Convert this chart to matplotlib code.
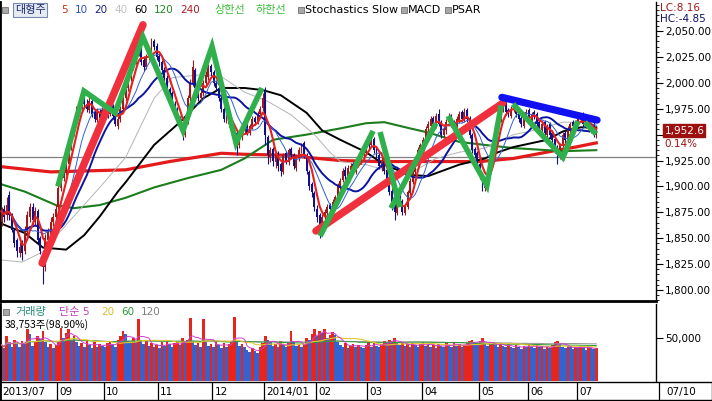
import numpy as np
import pandas as pd
import matplotlib
matplotlib.use('Agg')
import matplotlib.pyplot as plt
from matplotlib.ticker import MultipleLocator, FuncFormatter
from matplotlib.patches import Rectangle

plt.rcParams['font.family'] = ['DejaVu Sans']
KR = ['Noto Sans CJK KR', 'DejaVu Sans']

# ---------------- data ----------------
month_labels = ['2013/07', '09', '10', '11', '12', '2014/01', '02', '03', '04', '05', '06', '07']
month_start = [0, 22, 40, 61, 82, 102, 122, 142, 163, 185, 204, 223]
last_date_label = '07/10'

opens = [
    1866, 1878, 1872, 1892, 1870, 1858, 1848, 1836, 1845, 1838,
    1856, 1870, 1880, 1866, 1876, 1850, 1832, 1822, 1848, 1852,
    1866, 1870, 1880, 1898, 1908, 1914, 1922, 1938, 1952, 1962,
    1972, 1978, 1986, 1980, 1974, 1982, 1972, 1964, 1972, 1966,
    1972, 1976, 1970, 1978, 1968, 1958, 1965, 1975, 1985, 1995,
    2005, 2015, 2020, 2030, 2034, 2022, 2015, 2025, 2030, 2040,
    2036, 2026, 2020, 2012, 2005, 1994, 1990, 1980, 1975, 1966,
    1960, 1950, 1962, 1985, 2000, 2012, 1996, 1985, 1990, 2000,
    2006, 2016, 2010, 2000, 1995, 1985, 1975, 1964, 1968, 1960,
    1956, 1952, 1940, 1948, 1955, 1962, 1952, 1958, 1966, 1962,
    1970, 1976, 1992, 1948, 1928, 1936, 1924, 1932, 1922, 1914,
    1932, 1924, 1936, 1930, 1918, 1928, 1934, 1942, 1930, 1914,
    1902, 1894, 1878, 1872, 1860, 1872, 1874, 1882, 1876, 1884,
    1890, 1898, 1906, 1916, 1910, 1916, 1922, 1914, 1922, 1924,
    1930, 1934, 1944, 1940, 1946, 1936, 1930, 1918, 1926, 1916,
    1906, 1896, 1882, 1874, 1892, 1886, 1874, 1880, 1894, 1904,
    1914, 1924, 1936, 1940, 1944, 1956, 1958, 1966, 1958, 1970,
    1962, 1950, 1954, 1962, 1968, 1962, 1954, 1964, 1972, 1964,
    1974, 1966, 1950, 1936, 1932, 1922, 1912, 1898, 1904, 1914,
    1928, 1944, 1954, 1964, 1974, 1980, 1974, 1968, 1974, 1980,
    1972, 1966, 1958, 1966, 1974, 1962, 1972, 1970, 1962, 1954,
    1962, 1950, 1960, 1952, 1946, 1938, 1928, 1940, 1952, 1944,
    1954, 1962, 1956, 1960, 1964, 1970, 1958, 1964, 1954, 1960,
    1950]
highs = [
    1880, 1882, 1890, 1896, 1874, 1860, 1850, 1846, 1848, 1862,
    1876, 1884, 1884, 1880, 1878, 1852, 1835, 1854, 1860, 1870,
    1874, 1882, 1902, 1914, 1920, 1926, 1942, 1956, 1966, 1978,
    1982, 1988, 1990, 1984, 1986, 1985, 1975, 1976, 1975, 1977,
    1979, 1980, 1981, 1980, 1970, 1968, 1978, 1988, 1998, 2008,
    2018, 2024, 2033, 2038, 2037, 2026, 2028, 2034, 2043, 2042,
    2038, 2028, 2022, 2015, 2008, 1996, 1992, 1982, 1977, 1968,
    1962, 1963, 1988, 2004, 2022, 2014, 1998, 1993, 2003, 2011,
    2018, 2018, 2012, 2003, 1997, 1987, 1977, 1970, 1970, 1962,
    1958, 1954, 1950, 1957, 1963, 1964, 1960, 1968, 1968, 1973,
    1978, 1990, 1996, 1950, 1938, 1938, 1932, 1934, 1924, 1932,
    1934, 1937, 1938, 1932, 1930, 1938, 1942, 1944, 1932, 1916,
    1904, 1896, 1882, 1874, 1873, 1878, 1883, 1884, 1888, 1892,
    1903, 1908, 1918, 1920, 1921, 1923, 1924, 1925, 1928, 1933,
    1938, 1943, 1948, 1948, 1948, 1938, 1932, 1928, 1928, 1918,
    1908, 1898, 1884, 1892, 1894, 1888, 1883, 1897, 1908, 1918,
    1928, 1938, 1942, 1948, 1958, 1963, 1968, 1968, 1971, 1975,
    1964, 1958, 1965, 1971, 1970, 1964, 1968, 1973, 1974, 1976,
    1976, 1968, 1952, 1938, 1934, 1924, 1914, 1908, 1918, 1933,
    1948, 1958, 1968, 1978, 1981, 1982, 1976, 1978, 1981, 1982,
    1974, 1968, 1970, 1975, 1976, 1972, 1974, 1972, 1964, 1962,
    1964, 1960, 1962, 1954, 1948, 1940, 1942, 1953, 1954, 1958,
    1962, 1964, 1964, 1968, 1971, 1972, 1964, 1966, 1960, 1962,
    1956]
lows = [
    1862, 1866, 1868, 1868, 1856, 1842, 1832, 1832, 1829, 1835,
    1852, 1866, 1864, 1862, 1845, 1835, 1806, 1818, 1844, 1848,
    1862, 1866, 1878, 1896, 1905, 1911, 1920, 1935, 1949, 1960,
    1968, 1975, 1977, 1972, 1971, 1967, 1962, 1962, 1963, 1964,
    1970, 1966, 1968, 1965, 1958, 1955, 1962, 1972, 1982, 1992,
    2002, 2012, 2018, 2026, 2017, 2011, 2013, 2022, 2027, 2032,
    2022, 2016, 2009, 2002, 1992, 1986, 1977, 1972, 1962, 1957,
    1945, 1948, 1960, 1982, 1997, 1992, 1982, 1982, 1987, 1997,
    2003, 2007, 1997, 1992, 1982, 1972, 1962, 1961, 1957, 1952,
    1947, 1930, 1937, 1945, 1952, 1950, 1950, 1955, 1959, 1960,
    1968, 1973, 1940, 1922, 1924, 1920, 1918, 1915, 1910, 1912,
    1922, 1921, 1926, 1917, 1915, 1925, 1932, 1927, 1912, 1897,
    1890, 1876, 1866, 1850, 1858, 1868, 1872, 1874, 1874, 1881,
    1888, 1896, 1904, 1906, 1907, 1913, 1912, 1912, 1919, 1922,
    1927, 1932, 1936, 1938, 1932, 1926, 1917, 1915, 1912, 1902,
    1892, 1877, 1868, 1872, 1882, 1872, 1872, 1878, 1892, 1902,
    1912, 1922, 1932, 1937, 1941, 1953, 1955, 1957, 1956, 1958,
    1947, 1947, 1951, 1959, 1957, 1952, 1952, 1961, 1962, 1962,
    1962, 1947, 1932, 1927, 1917, 1907, 1896, 1896, 1902, 1912,
    1926, 1942, 1952, 1962, 1972, 1969, 1967, 1966, 1972, 1967,
    1962, 1957, 1956, 1964, 1962, 1960, 1965, 1958, 1952, 1952,
    1950, 1948, 1947, 1942, 1932, 1922, 1926, 1938, 1942, 1942,
    1952, 1955, 1954, 1958, 1962, 1957, 1956, 1953, 1952, 1948,
    1947]
closes = [
    1876, 1870, 1882, 1872, 1858, 1845, 1838, 1842, 1836, 1858,
    1872, 1880, 1868, 1876, 1848, 1838, 1822, 1850, 1856, 1866,
    1870, 1878, 1898, 1910, 1916, 1922, 1938, 1952, 1962, 1974,
    1978, 1985, 1980, 1975, 1982, 1970, 1965, 1972, 1966, 1974,
    1975, 1970, 1978, 1968, 1960, 1965, 1975, 1985, 1995, 2005,
    2015, 2020, 2030, 2035, 2020, 2015, 2025, 2030, 2038, 2035,
    2025, 2020, 2012, 2005, 1995, 1990, 1980, 1975, 1965, 1960,
    1950, 1960, 1985, 2000, 2015, 1995, 1985, 1990, 2000, 2008,
    2015, 2010, 2000, 1995, 1985, 1975, 1965, 1968, 1960, 1955,
    1950, 1940, 1948, 1955, 1960, 1952, 1958, 1965, 1962, 1970,
    1975, 1985, 1950, 1930, 1935, 1925, 1930, 1920, 1915, 1930,
    1925, 1935, 1930, 1920, 1928, 1935, 1940, 1930, 1915, 1900,
    1895, 1880, 1870, 1860, 1870, 1875, 1880, 1878, 1885, 1890,
    1900, 1905, 1915, 1910, 1918, 1920, 1915, 1922, 1925, 1930,
    1935, 1940, 1940, 1945, 1935, 1930, 1920, 1925, 1915, 1905,
    1895, 1880, 1875, 1890, 1885, 1875, 1880, 1895, 1905, 1915,
    1925, 1935, 1940, 1945, 1955, 1960, 1965, 1960, 1968, 1960,
    1950, 1955, 1962, 1968, 1960, 1955, 1965, 1970, 1965, 1972,
    1965, 1950, 1935, 1930, 1920, 1910, 1900, 1905, 1915, 1930,
    1945, 1955, 1965, 1975, 1978, 1972, 1970, 1975, 1978, 1970,
    1965, 1960, 1968, 1972, 1965, 1970, 1968, 1960, 1955, 1960,
    1952, 1958, 1950, 1945, 1935, 1930, 1940, 1950, 1945, 1955,
    1960, 1958, 1962, 1965, 1968, 1960, 1962, 1955, 1958, 1950,
    1952.6]
volumes = [
    42000, 38000, 52000, 45000, 40000, 48000, 44000, 39000, 46000, 43000,
    60000, 55000, 41000, 47000, 52000, 49000, 58000, 45000, 40000, 43000,
    38000, 42000, 46000, 62000, 50000, 56000, 60000, 48000, 52000, 45000,
    41000, 44000, 39000, 47000, 42000, 38000, 45000, 40000, 43000, 41000,
    39000, 44000, 46000, 42000, 40000, 48000, 52000, 58000, 55000, 47000,
    44000, 50000, 45000, 72000, 48000, 43000, 46000, 41000, 44000, 40000,
    42000, 38000, 45000, 41000, 47000, 43000, 39000, 44000, 46000, 42000,
    50000, 45000, 48000, 73000, 46000, 42000, 44000, 40000, 72000, 45000,
    41000, 43000, 39000, 46000, 42000, 38000, 44000, 40000, 43000, 47000,
    74000, 45000, 41000, 43000, 39000, 36000, 34000, 38000, 35000, 33000,
    40000, 44000, 52000, 48000, 45000, 41000, 43000, 39000, 46000, 42000,
    40000, 44000, 58000, 45000, 41000, 43000, 39000, 42000, 50000, 48000,
    55000, 60000, 52000, 58000, 56000, 61000, 50000, 54000, 57000, 53000,
    45000, 42000, 40000, 44000, 38000, 41000, 43000, 39000, 42000, 40000,
    38000, 42000, 45000, 40000, 44000, 41000, 39000, 43000, 47000, 45000,
    48000, 46000, 50000, 44000, 42000, 45000, 41000, 43000, 40000, 44000,
    42000, 39000, 43000, 45000, 41000, 44000, 40000, 42000, 38000, 43000,
    41000, 39000, 44000, 42000, 40000, 45000, 41000, 43000, 39000, 42000,
    44000, 46000, 48000, 45000, 43000, 47000, 50000, 44000, 41000, 43000,
    45000, 42000, 40000, 44000, 41000, 39000, 43000, 40000, 38000, 42000,
    40000, 37000, 41000, 39000, 43000, 40000, 38000, 42000, 39000, 41000,
    37000, 40000, 38000, 42000, 45000, 47000, 43000, 40000, 38000, 41000,
    39000, 37000, 40000, 38000, 41000, 39000, 36000, 40000, 38000, 37000,
    38753]

# long moving averages (index, value)
ma40_idx = [0, 8, 16, 25, 38, 48, 59, 66, 78, 85, 94, 103, 112, 121, 127, 131, 141, 151, 159, 168, 177, 187, 198, 204, 217, 230]
ma40_val = [1829, 1827, 1837, 1863, 1899, 1928, 1985, 2005, 2008, 2006, 1991, 1982, 1969, 1950, 1933, 1924, 1921, 1914, 1914, 1927, 1933, 1937, 1950, 1953, 1962, 1962]
ma60_idx = [0, 9, 16, 25, 32, 38, 45, 48, 59, 69, 78, 85, 94, 101, 108, 118, 124, 131, 141, 148, 158, 165, 177, 187, 192, 198, 211, 217, 224, 230]
ma60_val = [1864, 1855, 1841, 1839, 1853, 1871, 1895, 1904, 1940, 1962, 1985, 1995, 1995, 1993, 1988, 1971, 1954, 1945, 1933, 1921, 1911, 1910, 1921, 1927, 1933, 1938, 1945, 1953, 1957, 1957]
ma120_idx = [0, 9, 21, 28, 38, 48, 59, 72, 85, 94, 105, 118, 131, 141, 148, 158, 165, 177, 187, 198, 211, 217, 230]
ma120_val = [1902, 1895, 1882, 1879, 1882, 1889, 1899, 1908, 1916, 1927, 1945, 1950, 1956, 1961, 1962, 1956, 1952, 1943, 1940, 1937, 1935, 1934, 1935]
ma240_idx = [0, 19, 48, 65, 85, 94, 112, 118, 131, 146, 185, 198, 215, 222, 230]
ma240_val = [1919, 1914, 1916, 1924, 1932, 1931, 1930, 1928, 1925, 1924, 1924, 1927, 1935, 1938, 1942]

ref_price = 1928
change_pct = '0.14%'
lc_text, hc_text = 'LC:8.16', 'HC:-4.85'
vol_ratio_text = '(98.90%)'

# hand-drawn trend lines (index, price)
red_lines = [([15.7, 54.7], [1826, 2056]), ([121.6, 193.9], [1857, 1980.5])]
blue_lines = [([193.5, 230.3], [1986, 1964])]
green_lines = [
    ([21.8, 31.9, 43.9, 54.7, 70.2, 81.4, 90.7, 100.7], [1900, 1992, 1971, 2044, 1954, 2035, 1942, 1995]),
    ([123.2, 143.7], [1852, 1953.5]),
    ([146.4, 154.1], [1952.5, 1880]),
    ([150.6, 168.0], [1879, 1961]),
    ([172.7, 187.7, 193.2], [1968, 1901, 1978]),
    ([197.8, 217.1, 222.9], [1979.5, 1928, 1963]),
    ([225.6, 229.9], [1962, 1950.6]),
]

# ---------------- layout ----------------
W, H = 712, 401
fig = plt.figure(figsize=(W / 100, H / 100), dpi=100)
fig.patch.set_facecolor('white')


def box(x0, y0, x1, y1):
    return [x0 / W, 1 - y1 / H, (x1 - x0) / W, (y1 - y0) / H]


PPX = 2.586          # pixels per trading day
X0PX = 1.5
RIGHT = 656
xl = (-X0PX / PPX, (RIGHT - X0PX) / PPX)

idx = np.arange(len(closes))
o = np.array(opens, float); h = np.array(highs, float)
l = np.array(lows, float); c = np.array(closes, float)
up = c >= o

# ---- price pane ----
ax = fig.add_axes(box(0, 2, RIGHT, 301))
ax.set_xlim(*xl)
ax.set_ylim(1789.4, 2078.0)
ax.set_facecolor('white')

ax.axhline(ref_price, color='#808080', lw=0.9, zorder=1)

s = pd.Series(c)
ma5 = s.rolling(5, min_periods=1).mean()
ma10 = s.rolling(10, min_periods=1).mean()
ma20 = s.rolling(20, min_periods=1).mean()

ax.plot(ma240_idx, ma240_val, color='#e41b1b', lw=2.3, zorder=2)
ax.plot(ma120_idx, ma120_val, color='#1c7d1c', lw=1.5, zorder=2)
ax.plot(ma60_idx, ma60_val, color='#000000', lw=1.4, zorder=2)
ax.plot(ma40_idx, ma40_val, color='#b4b4b4', lw=0.7, zorder=2)

ccol = np.where(up, '#9e1a1a', '#10108a')
ax.vlines(idx, np.minimum(l, np.minimum(o, c)), np.maximum(h, np.maximum(o, c)),
          colors=ccol, lw=0.8, zorder=3)
ax.bar(idx, np.maximum(np.abs(c - o), 1.0), bottom=np.minimum(o, c), width=0.75,
       color=ccol, edgecolor='none', zorder=3)

ax.plot(idx, ma20, color='#0a14a0', lw=1.4, zorder=4)
ax.plot(idx, ma10, color='#3060d8', lw=0.7, zorder=4)
ax.plot(idx, ma5, color='#e42020', lw=1.5, zorder=4)

for xs, ys in red_lines:
    ax.plot(xs, ys, color='#f0303c', lw=5.4, solid_capstyle='round', zorder=10)
for xs, ys in blue_lines:
    ax.plot(xs, ys, color='#1010f0', lw=5.2, solid_capstyle='round', zorder=10)
for xs, ys in green_lines:
    ax.plot(xs, ys, color='#2fb04c', lw=4.0, solid_capstyle='butt', solid_joinstyle='miter', zorder=11)

ax.set_xticks([])
ax.yaxis.tick_right()
ax.set_yticks(np.arange(1800, 2051, 25))
# the 1,950 label sits under the last-price tag, as in the reference
ax.yaxis.set_major_formatter(FuncFormatter(lambda v, p: '' if abs(v - 1950) < 1 else f'{v:,.2f}'))
ax.yaxis.set_minor_locator(MultipleLocator(5))
ax.tick_params(axis='y', which='major', length=5, width=0.8, labelsize=7.5, pad=1.5, direction='out')
ax.tick_params(axis='y', which='minor', length=2.5, width=0.6, direction='out')
ax.spines['top'].set_visible(False)
ax.spines['left'].set_linewidth(2.0)
ax.spines['right'].set_linewidth(1.0)
ax.spines['bottom'].set_linewidth(2.0)

# last price tag
ax.annotate(f'{closes[-1]:,.1f}', xy=(1.0, closes[-1]), xycoords=ax.get_yaxis_transform(),
            xytext=(6, 1), textcoords='offset points', fontsize=7.5, color='white',
            va='center', ha='left',
            bbox=dict(boxstyle='square,pad=0.12', fc='#9c1010', ec='#9c1010'), annotation_clip=False)
ax.annotate(change_pct, xy=(1.0, closes[-1]), xycoords=ax.get_yaxis_transform(),
            xytext=(6, -9), textcoords='offset points', fontsize=7.5, color='#9c1010',
            va='center', ha='left', annotation_clip=False)

# ---- volume pane ----
axv = fig.add_axes(box(0, 304, RIGHT, 381))
axv.set_xlim(*xl)
axv.set_ylim(0, 89535)
vol = np.array(volumes, float)
vol_up = np.concatenate([[True], vol[1:] >= vol[:-1]])   # volume vs previous day
vcol = np.where(vol_up, '#e6261c', '#3462cf')
axv.bar(idx, vol, width=1.0, color=vcol, edgecolor='none', zorder=2)
vs = pd.Series(vol)
axv.plot(idx, vs.rolling(120, min_periods=1).mean(), color='#909090', lw=0.7, zorder=3)
axv.plot(idx, vs.rolling(60, min_periods=1).mean(), color='#2a9a3a', lw=0.7, zorder=3)
axv.plot(idx, vs.rolling(20, min_periods=1).mean(), color='#e0c830', lw=0.8, zorder=3)
axv.plot(idx, vs.rolling(5, min_periods=1).mean(), color='#d040d0', lw=0.7, zorder=3)
axv.set_xticks([])
axv.yaxis.tick_right()
axv.set_yticks([50000])
axv.yaxis.set_major_formatter(FuncFormatter(lambda v, p: f'{v:,.0f}'))
axv.tick_params(axis='y', length=5, width=0.8, labelsize=7.5, pad=1.5)
axv.spines['top'].set_visible(False)
axv.spines['bottom'].set_visible(False)
axv.spines['left'].set_linewidth(2.0)
axv.spines['right'].set_linewidth(1.0)

# ---- date strip ----
axd = fig.add_axes(box(0, 382, W, 400))
axd.set_xlim(-X0PX / PPX, (W - X0PX) / PPX)
axd.set_ylim(0, 1)
axd.set_xticks([]); axd.set_yticks([])
for sp in axd.spines.values():
    sp.set_linewidth(1.0)
axd.spines['left'].set_linewidth(2.0)
for lab, i0 in zip(month_labels, month_start):
    xs = i0 - 0.5
    axd.axvline(xs, color='black', lw=0.9)
    axd.text(xs + 0.9, 0.45, lab, fontsize=7.5, va='center', ha='left')
axd.axvline(xl[1] + 1.0, color='black', lw=0.9)
axd.text(xl[1] + 4.2, 0.45, last_date_label, fontsize=7.5, va='center', ha='left')

# ---- header texts ----
def ftext(xp, yp, s, **kw):
    kw.setdefault('fontsize', 7.5)
    kw.setdefault('va', 'center')
    kw.setdefault('ha', 'left')
    fig.text(xp / W, 1 - yp / H, s, **kw)


def square(xp, yp):
    fig.patches.append(Rectangle((xp / W, 1 - (yp + 3) / H), 6 / W, 6 / H,
                                 transform=fig.transFigure, fc='#a8a8a8', ec='#707070', lw=0.6))


square(2, 10)
ftext(15, 10, '대형주', color='#1a2a70', family=KR, fontsize=8,
      bbox=dict(boxstyle='square,pad=0.15', fc='#e6eaf2', ec='#7888aa', lw=0.8))
legend_items = [('5', '#c03a20', 61), ('10', '#3050b8', 75), ('20', '#1a2080', 94),
                ('40', '#c0c0c0', 114), ('60', '#000000', 134), ('120', '#208a20', 154),
                ('240', '#b01c2a', 180)]
for t, col, xp in legend_items:
    ftext(xp, 10, t, color=col)
ftext(214, 10, '상한선', color='#3cbf3c', family=KR, fontsize=8)
ftext(256, 10, '하한선', color='#3cbf3c', family=KR, fontsize=8)
square(298, 10)
ftext(305, 10, 'Stochastics Slow', color='black', fontsize=8)
square(401, 10)
ftext(408, 10, 'MACD', color='black', fontsize=8)
square(445, 10)
ftext(452, 10, 'PSAR', color='black', fontsize=8)

ftext(660, 8, lc_text, color='#a01818')
ftext(660, 19, hc_text, color='#10106a')

square(3, 312)
ftext(15, 312, '거래량', color='#2a8a7a', family=KR, fontsize=8)
ftext(59, 312, '단순', color='#c040c0', family=KR, fontsize=8)
ftext(82, 312, '5', color='#c040c0')
ftext(101, 312, '20', color='#d8c030')
ftext(121, 312, '60', color='#2a9a3a')
ftext(141, 312, '120', color='#808080')
ftext(5, 325, f'{volumes[-1]:,}주{vol_ratio_text}', color='black', family=KR, fontsize=7.5)

fig.savefig('out.png', dpi=100, facecolor='white')
